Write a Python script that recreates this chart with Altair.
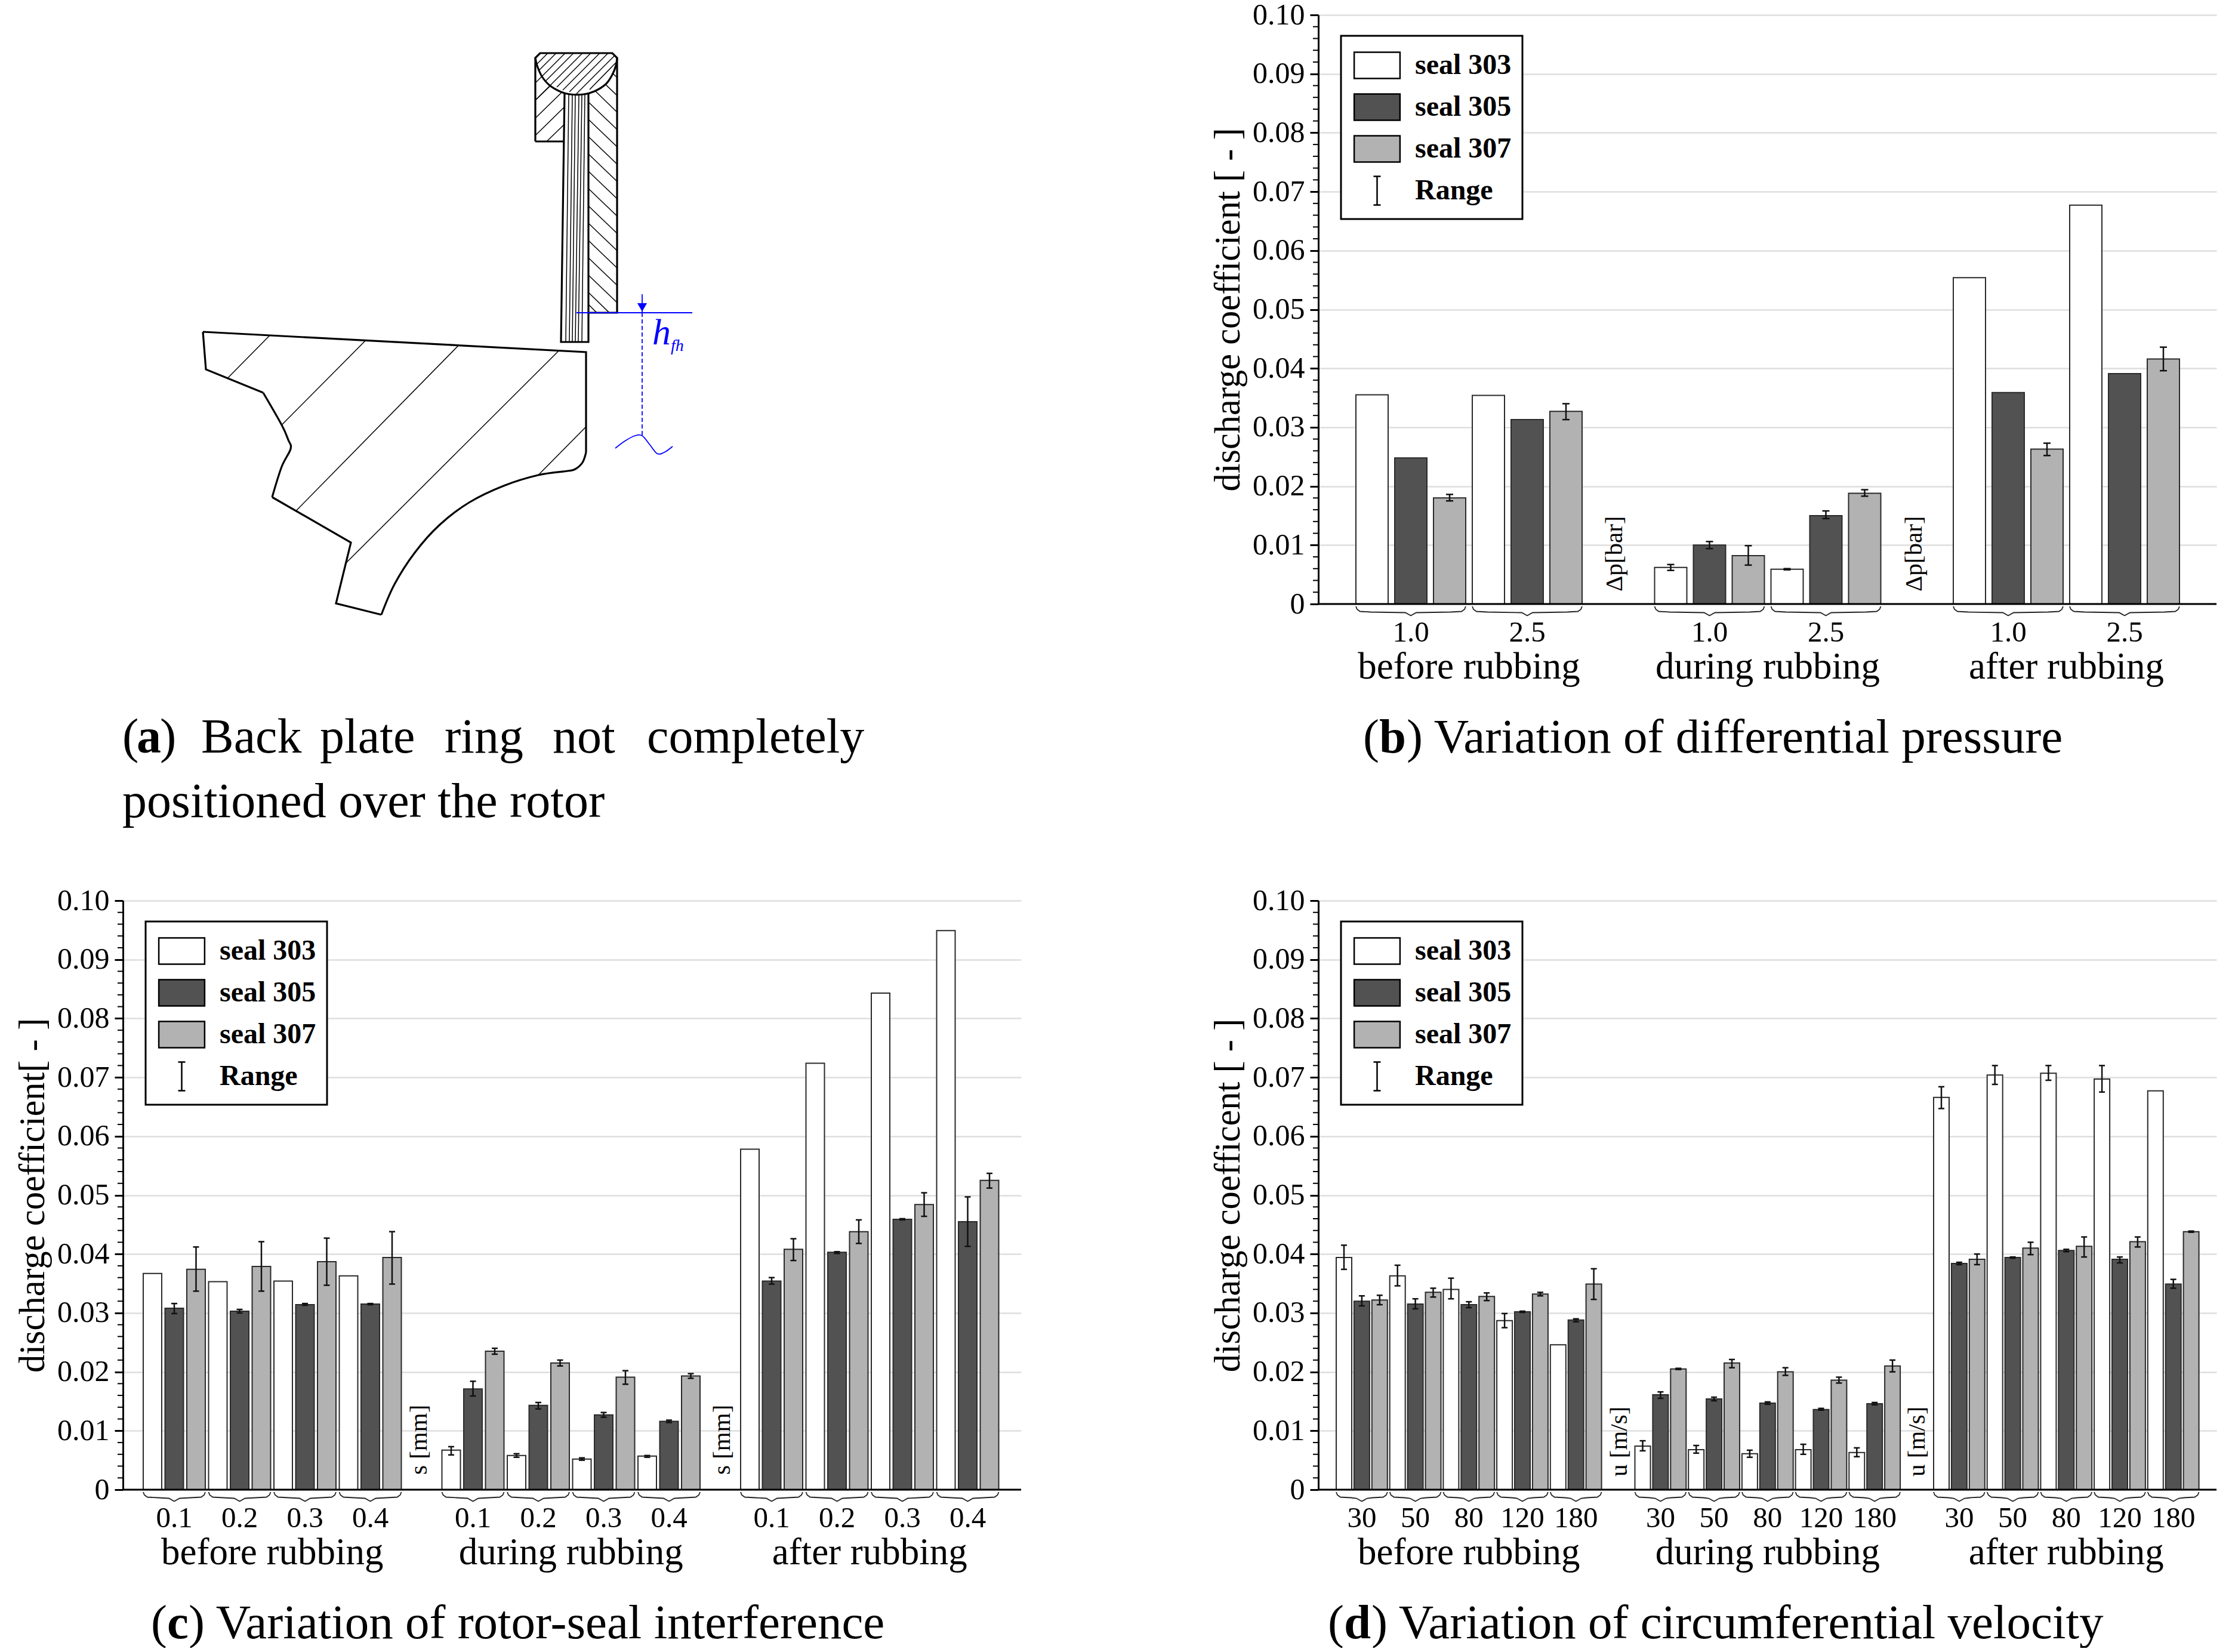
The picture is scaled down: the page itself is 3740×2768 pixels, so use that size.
import altair as alt
import pandas as pd

W = 1505
H = 987
FONT = 'Liberation Serif'
sections = ['before rubbing', 'during rubbing', 'after rubbing']
series = ['seal 303', 'seal 305', 'seal 307', 'Range']
colors = ['#ffffff', '#525252', '#b2b2b2', 'transparent']
symbols = ['M-1.28,-0.73H1.28V0.73H-1.28Z', 'M-1.28,-0.73H1.28V0.73H-1.28Z', 'M-1.28,-0.73H1.28V0.73H-1.28Z',
           'M-0.2,-0.8H0.2M0,-0.8V0.8M-0.2,0.8H0.2']
major = [0.01, 0.02, 0.03, 0.04, 0.05, 0.06, 0.07, 0.08, 0.09, 0.10]
all_ticks = [0] + major
minor = [0.002, 0.004, 0.006, 0.008, 0.012, 0.014, 0.016, 0.018, 0.022, 0.024, 0.026, 0.028,
         0.032, 0.034, 0.036, 0.038, 0.042, 0.044, 0.046, 0.048, 0.052, 0.054, 0.056, 0.058,
         0.062, 0.064, 0.066, 0.068, 0.072, 0.074, 0.076, 0.078, 0.082, 0.084, 0.086, 0.088,
         0.092, 0.094, 0.096, 0.098]

# panel b, differential pressure
b_groups = ['1.0', '2.5']
b_303 = [0.0355, 0.0354, 0.0062, 0.0059, 0.0554, 0.0677]
b_305 = [0.0248, 0.0313, 0.0100, 0.0150, 0.0359, 0.0391]
b_307 = [0.0180, 0.0327, 0.0082, 0.0188, 0.0263, 0.0416]
b_303_err = [None, None, (0.0057, 0.0067), (0.0058, 0.0060), None, None]
b_305_err = [None, None, (0.0094, 0.0106), (0.0145, 0.0158), None, None]
b_307_err = [(0.0175, 0.0186), (0.0313, 0.0340), (0.0066, 0.0099), (0.0183, 0.0194), (0.0252, 0.0273), (0.0396, 0.0436)]

# panel c, rotor-seal interference
c_groups = ['0.1', '0.2', '0.3', '0.4']
c_303 = [0.0367, 0.0353, 0.0354, 0.0363, 0.0067, 0.0058, 0.0052, 0.0057, 0.0578, 0.0724, 0.0843, 0.0949]
c_305 = [0.0308, 0.0303, 0.0314, 0.0315, 0.0171, 0.0143, 0.0127, 0.0116, 0.0354, 0.0403, 0.0459, 0.0455]
c_307 = [0.0374, 0.0379, 0.0387, 0.0394, 0.0235, 0.0215, 0.0191, 0.0193, 0.0408, 0.0438, 0.0484, 0.0525]
c_303_err = [None, None, None, None, (0.0059, 0.0073), (0.0055, 0.0061), (0.0050, 0.0054), (0.0055, 0.0058),
             None, None, None, None]
c_305_err = [(0.0299, 0.0316), (0.0300, 0.0306), (0.0313, 0.0316), (0.0314, 0.0316),
             (0.0159, 0.0184), (0.0137, 0.0148), (0.0123, 0.0131), (0.0114, 0.0118),
             (0.0349, 0.0360), (0.0401, 0.0404), (0.0458, 0.0460), (0.0413, 0.0497)]
c_307_err = [(0.0337, 0.0412), (0.0337, 0.0421), (0.0347, 0.0427), (0.0349, 0.0438),
             (0.0230, 0.0240), (0.0210, 0.0220), (0.0179, 0.0202), (0.0189, 0.0197),
             (0.0389, 0.0426), (0.0418, 0.0458), (0.0464, 0.0504), (0.0512, 0.0537)]

# panel d, circumferential velocity
d_groups = ['30', '50', '80', '120', '180']
d_303 = [0.0394, 0.0363, 0.0340, 0.0287, 0.0246, 0.0074, 0.0068, 0.0061, 0.0068, 0.0063,
         0.0666, 0.0704, 0.0707, 0.0697, 0.0677]
d_305 = [0.0320, 0.0315, 0.0314, 0.0302, 0.0288, 0.0161, 0.0154, 0.0147, 0.0136, 0.0146,
         0.0384, 0.0394, 0.0406, 0.0391, 0.0349]
d_307 = [0.0322, 0.0335, 0.0328, 0.0332, 0.0349, 0.0205, 0.0215, 0.0200, 0.0186, 0.0210,
         0.0391, 0.0410, 0.0413, 0.0421, 0.0438]
d_303_err = [(0.0374, 0.0415), (0.0346, 0.0381), (0.0324, 0.0359), (0.0275, 0.0299), None,
             (0.0066, 0.0083), (0.0062, 0.0075), (0.0055, 0.0067), (0.0060, 0.0077), (0.0056, 0.0071),
             (0.0647, 0.0684), (0.0688, 0.0720), (0.0695, 0.0720), (0.0675, 0.0720), None]
d_305_err = [(0.0312, 0.0329), (0.0307, 0.0324), (0.0309, 0.0319), (0.0301, 0.0303), (0.0285, 0.0290),
             (0.0155, 0.0166), (0.0151, 0.0157), (0.0145, 0.0149), (0.0135, 0.0138), (0.0144, 0.0148),
             (0.0382, 0.0386), (0.0393, 0.0395), (0.0404, 0.0408), (0.0385, 0.0395), (0.0342, 0.0357)]
d_307_err = [(0.0314, 0.0330), (0.0327, 0.0342), (0.0321, 0.0334), (0.0329, 0.0335), (0.0323, 0.0375),
             (0.0204, 0.0206), (0.0207, 0.0221), (0.0194, 0.0207), (0.0181, 0.0191), (0.0200, 0.0220),
             (0.0382, 0.0400), (0.0399, 0.0420), (0.0395, 0.0429), (0.0412, 0.0429), (0.0437, 0.0439)]

# panel a drawing, in reference pixels
rotor_x = [342, 984, 984]
rotor_y = [556, 590, 758]
rotor_arc_x = [984, 978, 966, 954, 904, 846, 788, 738, 697, 663, 641]
rotor_arc_y = [758, 775, 786, 789, 796, 814, 842, 880, 926, 979, 1030]
rotor_foot_x = [641, 565, 590, 458]
rotor_foot_y = [1030, 1011, 909, 833]
rotor_waist_x = [458, 474, 489, 485, 474, 443]
rotor_waist_y = [833, 782, 752, 737, 712, 658]
rotor_end_x = [443, 347, 342]
rotor_end_y = [658, 619, 556]
rotor_hatch = [((454, 562), (384, 633)), ((614, 571), (474, 712)), ((770, 579), (498, 856)),
               ((938, 588), (580, 945)), ((984, 715), (903, 797))]
ring_x = [899, 899, 907, 1028, 1036, 1036, 988]
ring_y = [237, 97, 89, 89, 97, 524, 524]
ledge_x = [899, 948]
ledge_y = [237, 237]
arc_x = [899, 902, 910, 923, 942, 957, 980, 998, 1017, 1028, 1034, 1036]
arc_y = [97, 110, 128, 143, 154, 158, 158, 153, 141, 125, 110, 97]
pack_x = [948, 942, 988, 988]
pack_y = [156, 573, 573, 155]
bristle_top = [955, 961, 966, 972, 977, 982]
bristle_bottom = [950, 956, 961, 966, 971, 977]
ring_hatch = [((902, 107), (920, 89)), ((906, 117), (934, 89)), ((900, 138), (949, 89)), ((917, 135), (963, 89)),
              ((900, 167), (978, 89)), ((935, 146), (992, 89)), ((945, 151), (1007, 89)), ((956, 154), (1021, 89)),
              ((968, 157), (1032, 93)), ((990, 150), (1034, 105)),
              ((900, 167), (925, 143)), ((900, 197), (943, 155)), ((900, 226), (948, 179)), ((918, 237), (948, 208))]
plate_hatch = [((1000, 153), (1036, 188)), ((1016, 141), (1036, 160)), ((1029, 123), (1036, 130)),
               ((988, 171), (1036, 217)), ((988, 200), (1036, 246)), ((988, 229), (1036, 275)),
               ((988, 258), (1036, 304)), ((988, 287), (1036, 333)), ((988, 316), (1036, 362)),
               ((988, 345), (1036, 391)), ((988, 374), (1036, 420)), ((988, 403), (1036, 449)),
               ((988, 432), (1036, 478)), ((988, 461), (1036, 507)), ((988, 490), (1023, 524)),
               ((988, 510), (1002, 524))]
blue_h_x = [968, 1162]
blue_h_y = [524, 524]
arrow_x = [1078, 1078]
arrow_y = [493, 524]
dash_x = [1078, 1078]
dash_y = [524, 730]
wave_x = [1033, 1049, 1066, 1078, 1090, 1103, 1115, 1129]
wave_y = [751, 739, 730, 730, 744, 760, 758, 748]

a_x_scale = alt.Scale(domain=[208, 208 + W], nice=False, zero=False)
a_y_scale = alt.Scale(domain=[1012, 25], nice=False, zero=False)
x_scale = alt.Scale(domain=[0, W], nice=False, zero=False)
y_scale = alt.Scale(domain=[0, 0.1], nice=False, zero=False)


def captions(words, dy, size=81):
    # words are (text, x px, weight)
    df = pd.DataFrame(words, columns=['label', 'px', 'weight'])
    parts = []
    for weight in ['normal', 'bold']:
        part = df[df.weight == weight]
        if len(part):
            parts.append(alt.Chart(part).mark_text(font=FONT, fontSize=size, fontWeight=weight, align='left',
                                                   baseline='alphabetic', color='black').encode(
                x=alt.X('px:Q', scale=x_scale, axis=None),
                y=alt.value(H + dy),
                text='label:N'))
    return parts


def bar_panel(groups, v303, v305, v307, e303, e305, e307, first, pitch, bar_w, cap, unit, unit_x, unit_up, ytitle, caption):
    n = len(groups)
    bars, errs, gl, braces, sl = [], [], [], [], []
    for s in range(3):
        origin = first + s * 500.5
        for g in range(n):
            idx = s * n + g
            for k, (vals, es) in enumerate([(v303, e303), (v305, e305), (v307, e307)]):
                left = origin + (g * 3 + k) * pitch
                bars.append({'series': series[k], 'x0': left, 'x1': left + bar_w, 'v': vals[idx], 'base': 0})
                if es[idx] is not None:
                    errs.append({'xc': left + bar_w / 2, 'cl': left + bar_w / 2 - cap, 'cr': left + bar_w / 2 + cap,
                                 'lo': es[idx][0], 'hi': es[idx][1]})
            gl0 = origin + g * 3 * pitch
            gr0 = gl0 + 3 * pitch - (pitch - bar_w)
            mid = (gl0 + gr0) / 2
            gl.append({'label': groups[g], 'xm': mid})
            shape = [(gl0, 4), (gl0 + 2, 9), (gl0 + 7, 12.5), (gl0 + 25, 13.5), (mid - 9, 14.5), (mid, 19.5),
                     (mid + 9, 14.5), (gr0 - 25, 13.5), (gr0 - 7, 12.5), (gr0 - 2, 9), (gr0, 4)]
            for i, (bx, by) in enumerate(shape):
                braces.append({'id': idx, 'i': i, 'bx': bx, 'by': -by * 0.1 / H})
        sl.append({'label': sections[s], 'xm': origin + (3 * n * pitch - (pitch - bar_w)) / 2})

    x0 = alt.X('x0:Q', scale=x_scale, axis=None)
    yaxis = alt.Axis(values=all_ticks, tickSize=14, tickWidth=3, tickColor='black', domainColor='black', domainWidth=3,
                     labelExpr="datum.value == 0 ? '0' : format(datum.value, '.2f')", labelFont=FONT,
                     labelFontSize=50, labelColor='black', labelPadding=9, grid=True, gridColor='#dedede', gridWidth=2.5,
                     title=ytitle, titleFont=FONT, titleFontSize=60.5, titleFontWeight='normal', titleColor='black',
                     titleX=-120, titleY=H / 2)
    # fill has its own three-entry domain so its switched-off legend is not merged with the real one
    bar_layer = alt.Chart(pd.DataFrame(bars)).mark_bar(stroke='#2a2a2a', strokeWidth=2).encode(
        x=x0, x2='x1:Q',
        y=alt.Y('v:Q', scale=y_scale, axis=yaxis), y2='base:Q',
        fill=alt.Fill('series:N', scale=alt.Scale(domain=series[:3], range=colors[:3]), legend=None))
    legend = alt.Legend(orient='none', legendX=38, legendY=35, title=None, symbolSize=3600,
                        symbolStrokeWidth=2.5, symbolOpacity=1, symbolOffset=11, labelFont=FONT, labelFontWeight='bold',
                        labelFontSize=48, labelColor='black', labelOffset=32, rowPadding=11, padding=18,
                        strokeColor='black', fillColor='white', labelLimit=400)
    legend_layer = alt.Chart(pd.DataFrame({'series': series})).mark_point(
        filled=True, opacity=0, size=3600).encode(
        color=alt.Color('series:N', scale=alt.Scale(domain=series, range=colors), legend=legend),
        stroke=alt.Stroke('series:N', scale=alt.Scale(domain=series, range=['black', 'black', 'black', 'black']), legend=legend),
        shape=alt.Shape('series:N', scale=alt.Scale(domain=series, range=symbols), legend=legend))
    err_df = pd.DataFrame(errs)
    err_rule = alt.Chart(err_df).mark_rule(color='#111111', strokeWidth=2.5).encode(
        x=alt.X('xc:Q', scale=x_scale, axis=None),
        y=alt.Y('lo:Q', scale=y_scale), y2='hi:Q')
    cap_lo = alt.Chart(err_df).mark_rule(color='#111111', strokeWidth=2.5).encode(
        x=alt.X('cl:Q', scale=x_scale, axis=None), x2='cr:Q', y=alt.Y('lo:Q', scale=y_scale))
    cap_hi = alt.Chart(err_df).mark_rule(color='#111111', strokeWidth=2.5).encode(
        x=alt.X('cl:Q', scale=x_scale, axis=None), x2='cr:Q', y=alt.Y('hi:Q', scale=y_scale))
    baseline = alt.Chart(pd.DataFrame({'v': [0]})).mark_rule(color='black', strokeWidth=3).encode(
        x=alt.value(0), x2=alt.value(W), y=alt.Y('v:Q', scale=y_scale))
    minor_ticks = alt.Chart(pd.DataFrame({'v': minor})).mark_rule(color='black', strokeWidth=2).encode(
        x=alt.value(-9), x2=alt.value(0), y=alt.Y('v:Q', scale=y_scale))
    brace_layer = alt.Chart(pd.DataFrame(braces)).mark_line(color='#222222', strokeWidth=1.8).encode(
        x=alt.X('bx:Q', scale=x_scale, axis=None), y=alt.Y('by:Q', scale=y_scale), detail='id:N', order='i:Q')
    group_labels = alt.Chart(pd.DataFrame(gl)).mark_text(font=FONT, fontSize=49, baseline='alphabetic', color='black').encode(
        x=alt.X('xm:Q', scale=x_scale, axis=None), y=alt.value(H + 63), text='label:N')
    section_labels = alt.Chart(pd.DataFrame(sl)).mark_text(font=FONT, fontSize=63, baseline='alphabetic', color='black').encode(
        x=alt.X('xm:Q', scale=x_scale, axis=None), y=alt.value(H + 125), text='label:N')
    unit_labels = alt.Chart(pd.DataFrame({'label': [unit, unit], 'px': unit_x})).mark_text(
        font=FONT, fontSize=41, angle=270, align='left', baseline='middle', color='black').encode(
        x=alt.X('px:Q', scale=x_scale, axis=None), y=alt.value(H - unit_up), text='label:N')
    layers = [bar_layer, minor_ticks, baseline, err_rule, cap_lo, cap_hi, brace_layer, group_labels, section_labels,
              unit_labels, legend_layer] + captions(caption, 249)
    return alt.layer(*layers).properties(width=W, height=H)


def line_rows(points, name):
    return [{'id': name, 'i': i, 'px': p[0], 'py': p[1]} for i, p in enumerate(points)]


# drawing of the seal
thick, curved, thin = [], [], []
thick += line_rows(list(zip(rotor_x, rotor_y)), 'rotor')
thick += line_rows(list(zip(rotor_foot_x, rotor_foot_y)), 'foot')
thick += line_rows(list(zip(rotor_end_x, rotor_end_y)), 'end')
thick += line_rows(list(zip(ring_x, ring_y)), 'ring')
thick += line_rows(list(zip(ledge_x, ledge_y)), 'ledge')
thick += line_rows(list(zip(pack_x, pack_y)), 'pack')
curved += line_rows(list(zip(rotor_arc_x, rotor_arc_y)), 'rotor_arc')
curved += line_rows(list(zip(rotor_waist_x, rotor_waist_y)), 'waist')
curved += line_rows(list(zip(arc_x, arc_y)), 'arc')
for n, seg in enumerate(rotor_hatch + ring_hatch + plate_hatch):
    thin += line_rows(seg, 'h%d' % n)
for n, (t, b) in enumerate(zip(bristle_top, bristle_bottom)):
    thin += line_rows([(t, 158), (b, 573)], 'b%d' % n)

ax = alt.X('px:Q', scale=a_x_scale, axis=None)
ay = alt.Y('py:Q', scale=a_y_scale, axis=None)
thick_layer = alt.Chart(pd.DataFrame(thick)).mark_line(color='black', strokeWidth=3.2, strokeJoin='miter').encode(
    x=ax, y=ay, detail='id:N', order='i:Q')
curved_layer = alt.Chart(pd.DataFrame(curved)).mark_line(color='black', strokeWidth=3.2, interpolate='cardinal').encode(
    x=ax, y=ay, detail='id:N', order='i:Q')
thin_layer = alt.Chart(pd.DataFrame(thin)).mark_line(color='black', strokeWidth=1.5).encode(
    x=ax, y=ay, detail='id:N', order='i:Q')
blue = '#0000ff'
blue_rows = line_rows(list(zip(blue_h_x, blue_h_y)), 'h') + line_rows(list(zip(arrow_x, arrow_y)), 'a')
blue_layer = alt.Chart(pd.DataFrame(blue_rows)).mark_line(color=blue, strokeWidth=1.8).encode(
    x=ax, y=ay, detail='id:N', order='i:Q')
dash_layer = alt.Chart(pd.DataFrame(line_rows(list(zip(dash_x, dash_y)), 'd'))).mark_line(
    color=blue, strokeWidth=1.8, strokeDash=[7, 4]).encode(x=ax, y=ay, order='i:Q')
wave_layer = alt.Chart(pd.DataFrame(line_rows(list(zip(wave_x, wave_y)), 'w'))).mark_line(
    color=blue, strokeWidth=1.8, interpolate='cardinal').encode(x=ax, y=ay, order='i:Q')
arrow_head = alt.Chart(pd.DataFrame({'px': [1078], 'py': [515]})).mark_point(
    shape='triangle-down', filled=True, color=blue, size=260, opacity=1).encode(x=ax, y=ay)
h_label = alt.Chart(pd.DataFrame({'px': [1095], 'py': [577], 'label': ['h']})).mark_text(
    font=FONT, fontSize=62, fontStyle='italic', align='left', baseline='alphabetic', color=blue).encode(x=ax, y=ay, text='label:N')
fh_label = alt.Chart(pd.DataFrame({'px': [1126], 'py': [588], 'label': ['fh']})).mark_text(
    font=FONT, fontSize=28, fontStyle='italic', align='left', baseline='alphabetic', color=blue).encode(x=ax, y=ay, text='label:N')

a_caption = [('(', -1, 'normal'), ('a', 23, 'bold'), (')', 62, 'normal'), ('Back', 131, 'normal'), ('plate', 330, 'normal'),
             ('ring', 539, 'normal'), ('not', 720, 'normal'), ('completely', 878, 'normal')]
a_lines = [('positioned over the rotor', -1, 'normal')]


def a_text(words, dy):
    df = pd.DataFrame(words, columns=['label', 'px', 'weight'])
    df['px'] = df['px'] + 208
    out = []
    for weight in ['normal', 'bold']:
        part = df[df.weight == weight]
        if len(part):
            out.append(alt.Chart(part).mark_text(font=FONT, fontSize=82, fontWeight=weight, align='left',
                                                 baseline='alphabetic', color='black').encode(
                x=ax, y=alt.value(H + dy), text='label:N'))
    return out


panel_a = alt.layer(thin_layer, thick_layer, curved_layer, blue_layer, dash_layer, wave_layer, arrow_head, h_label, fh_label,
                    *a_text(a_caption, 249), *a_text(a_lines, 357)).properties(width=W, height=H)

panel_b = bar_panel(b_groups, b_303, b_305, b_307, b_303_err, b_305_err, b_307_err, 63, 65, 54, 6, '\u0394p[bar]', [497, 999], 21,
                    'discharge coefficient [ - ]',
                    [('(', 75, 'normal'), ('b', 102, 'bold'), (') Variation of differential pressure', 148, 'normal')])
panel_c = bar_panel(c_groups, c_303, c_305, c_307, c_303_err, c_305_err, c_307_err, 34, 36.5, 31, 5, 's [mm]', [497, 1005], 25,
                    'discharge coefficient[ - ]',
                    [('(', 47, 'normal'), ('c', 74, 'bold'), (') Variation of rotor-seal interference', 110, 'normal')])
panel_d = bar_panel(d_groups, d_303, d_305, d_307, d_303_err, d_305_err, d_307_err, 30, 29.9, 26, 5, 'u [m/s]', [505, 1004], 22,
                    'discharge coefficent [ - ]',
                    [('(', 16, 'normal'), ('d', 43, 'bold'), (') Variation of circumferential velocity', 89, 'normal')])

chart = alt.concat(panel_a, panel_b, panel_c, panel_d, columns=2, bounds='flush',
                   spacing=alt.RowColnumber(row=497, column=498)).resolve_scale(
    color='independent', stroke='independent', shape='independent', fill='independent'
).resolve_legend(
    color='independent', stroke='independent', shape='independent'
).properties(
    padding={'left': 17, 'top': -8, 'right': 0, 'bottom': 0}
).configure_view(strokeWidth=0).configure_legend(strokeWidth=3)

chart.save("out.html", embed_options={"renderer": "svg", "actions": False})
